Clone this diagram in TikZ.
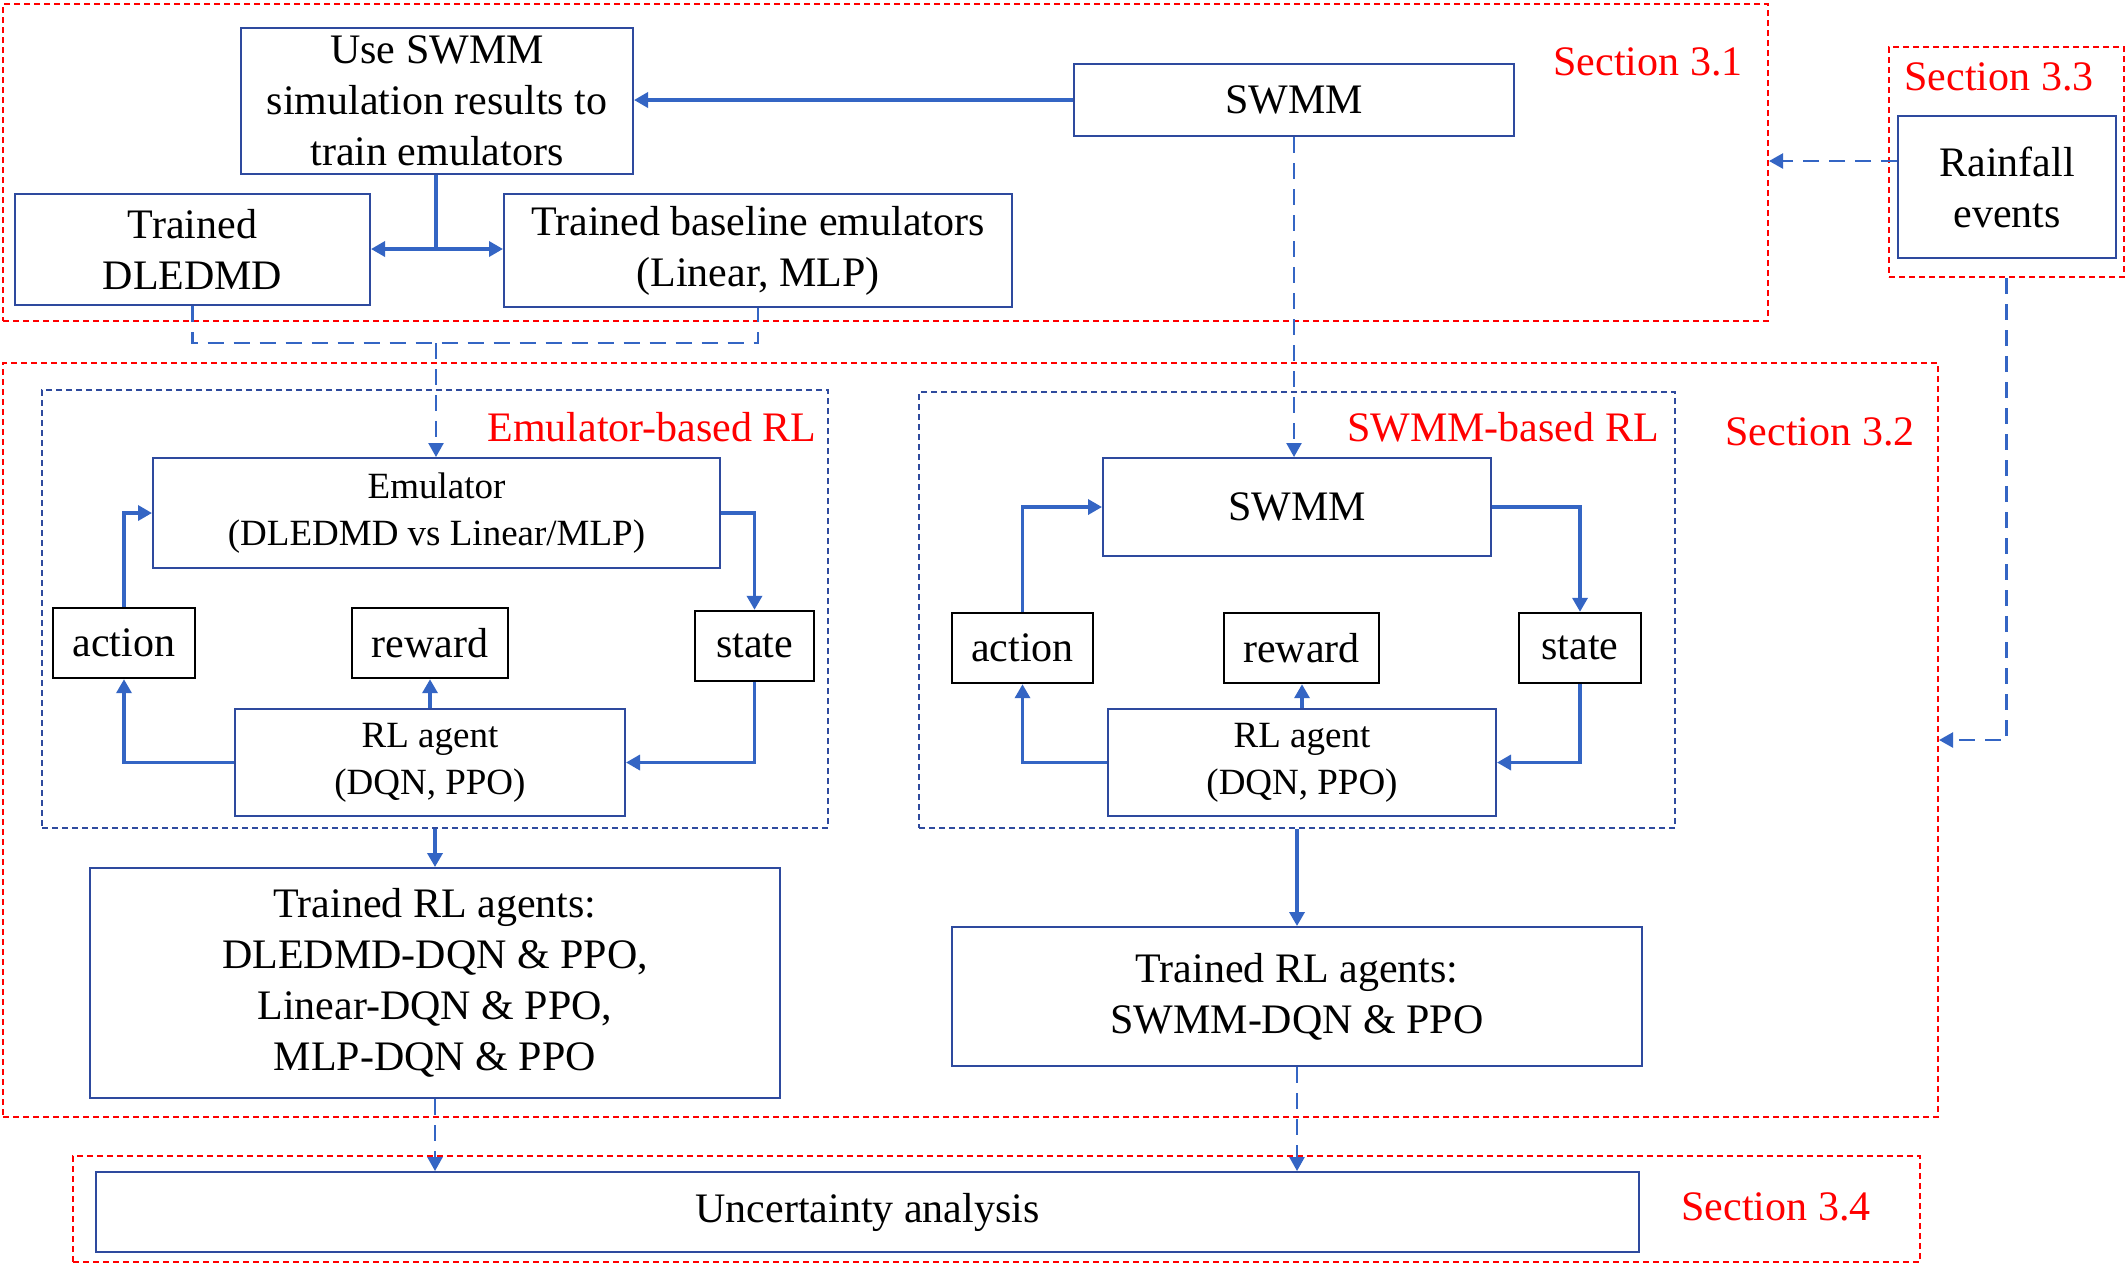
\documentclass[tikz,border=0pt]{standalone}
\usepackage{fontspec}
\setmainfont{Liberation Serif}
\usetikzlibrary{arrows.meta}
\definecolor{boxblue}{HTML}{2E4A9E}
\definecolor{arrblue}{HTML}{3465C4}
\definecolor{secred}{HTML}{FF0000}
\newcommand{\bx}[7]{%
  \pgfmathsetmacro{\bxcx}{(#3+#5)/2}\pgfmathsetmacro{\bxcy}{(#4+#6)/2}%
  \pgfmathsetmacro{\bxw}{(#5-#3)*0.5}\pgfmathsetmacro{\bxh}{(#6-#4)*0.5}%
  \node[#1, minimum width=\bxw pt, minimum height=\bxh pt, anchor=center] (#2) at (\bxcx,\bxcy) {#7};}
\begin{document}
\begin{tikzpicture}[x=0.5pt,y=-0.5pt,
  bbox/.style={draw=boxblue, line width=1pt, inner sep=0pt, align=center, font=\fontsize{21}{25.5}\selectfont},
  sbox/.style={bbox, font=\fontsize{18.5}{23.5}\selectfont},
  kbox/.style={draw=black, line width=1.2pt, inner sep=0pt, align=center, font=\fontsize{21}{25.5}\selectfont},
  secbox/.style={draw=secred, line width=1pt, dash pattern=on 3pt off 2pt, inner sep=0pt},
  rlbox/.style={draw=boxblue, line width=0.8pt, dash pattern=on 3pt off 2pt, inner sep=0pt},
  sect/.style={text=secred, font=\fontsize{21}{25}\selectfont, inner sep=0pt},
  conn/.style={draw=arrblue, line width=1.7pt},
  arr/.style={conn, -{Triangle[length=7pt,width=7.5pt]}},
  dconn/.style={draw=arrblue, line width=1.2pt, dash pattern=on 8pt off 5pt},
  darr/.style={dconn, -{Triangle[length=7pt,width=7.5pt]}},
]
\fill[white] (0,0) rectangle (2128,1266);
\useasboundingbox (0,0) rectangle (2128,1266);

% section boxes
\bx{secbox}{sec31}{3}{4}{1768}{321}{}
\bx{secbox}{sec33}{1889}{47}{2124}{277}{}
\bx{secbox}{sec32}{3}{363}{1938}{1117}{}
\bx{secbox}{sec34}{73}{1156}{1920}{1262}{}
\bx{rlbox}{emurl}{42}{390}{828}{828}{}
\bx{rlbox}{swmmrl}{919}{392}{1675}{828}{}

% section labels
\node[sect] (l31) at (1648,62) {Section 3.1};
\node[sect] (l33) at (1999,77) {Section 3.3};
\node[sect] (l32) at (1820,432) {Section 3.2};
\node[sect] (l34) at (1776,1207) {Section 3.4};
\node[sect] (lemu) at (652,427) {Emulator-based RL};
\node[sect] (lswmm) at (1503,427) {SWMM-based RL};

% top boxes
\bx{bbox}{use}{241}{28}{633}{174}{Use SWMM\\simulation results to\\train emulators}
\bx{bbox}{swmm1}{1074}{64}{1514}{136}{SWMM}
\bx{bbox}{rain}{1898}{116}{2116}{258}{Rainfall\\events}
\bx{bbox}{dled}{15}{194}{370}{305}{Trained\\DLEDMD}
\bx{bbox}{base}{504}{194}{1012}{307}{Trained baseline emulators\\(Linear, MLP)}

% emulator loop
\bx{sbox}{emu}{153}{458}{720}{568}{Emulator\\(DLEDMD vs Linear/MLP)}
\bx{kbox}{act1}{53}{608}{195}{678}{action}
\bx{kbox}{rew1}{352}{608}{508}{678}{reward}
\bx{kbox}{st1}{695}{611}{814}{681}{state}
\bx{sbox}{rl1}{235}{709}{625}{816}{RL agent\\(DQN, PPO)}

% SWMM loop
\bx{bbox}{swmm2}{1103}{458}{1491}{556}{SWMM}
\bx{kbox}{act2}{952}{613}{1093}{683}{action}
\bx{kbox}{rew2}{1224}{613}{1379}{683}{reward}
\bx{kbox}{st2}{1519}{613}{1641}{683}{state}
\bx{sbox}{rl2}{1108}{709}{1496}{816}{RL agent\\(DQN, PPO)}

% trained agents
\bx{bbox}{tr1}{90}{868}{780}{1098}{Trained RL agents:\\DLEDMD-DQN \& PPO,\\Linear-DQN \& PPO,\\MLP-DQN \& PPO}
\bx{bbox}{tr2}{952}{927}{1642}{1066}{Trained RL agents:\\SWMM-DQN \& PPO}
\bx{bbox}{unc}{96}{1172}{1639}{1252}{Uncertainty analysis}

% connectors (top)
\draw[arr] (swmm1.west) -- (swmm1.west -| use.east);
\coordinate (j1) at (436,249);
\draw[conn] (use.south -| j1) -- (j1);
\draw[arr] (j1) -- (j1 -| dled.east);
\draw[arr] (j1) -- (j1 -| base.west);
\coordinate (j2) at (436,343);
\draw[dconn] (dled.south) |- (base.south |- j2) -- (base.south);
\draw[darr] (j2) -- (j2 |- emu.north);
\draw[darr] (swmm1.south) -- (swmm1.south |- swmm2.north);
\coordinate (ry) at (0,161);
\draw[darr] (rain.west |- ry) -- (sec31.east |- ry);
\coordinate (ry2) at (0,740);
\draw[darr] (sec33.south) |- (sec32.east |- ry2);

% emulator loop
\draw[arr] (act1.north) |- (emu.west);
\draw[arr] (emu.east) -| (st1.north);
\draw[arr] (st1.south) |- (rl1.east);
\draw[arr] (rl1.west) -| (act1.south);
\draw[arr] (rl1.north) -- (rl1.north |- rew1.south);

% SWMM loop
\draw[arr] (act2.north) |- (swmm2.west);
\draw[arr] (swmm2.east) -| (st2.north);
\draw[arr] (st2.south) |- (rl2.east);
\draw[arr] (rl2.west) -| (act2.south);
\draw[arr] (rl2.north) -- (rl2.north |- rew2.south);

% to trained agents
\draw[arr] (tr1.north |- emurl.south) -- (tr1.north);
\draw[arr] (tr2.north |- swmmrl.south) -- (tr2.north);
\draw[darr] (tr1.south) -- (tr1.south |- unc.north);
\draw[darr] (tr2.south) -- (tr2.south |- unc.north);
\end{tikzpicture}
\end{document}
